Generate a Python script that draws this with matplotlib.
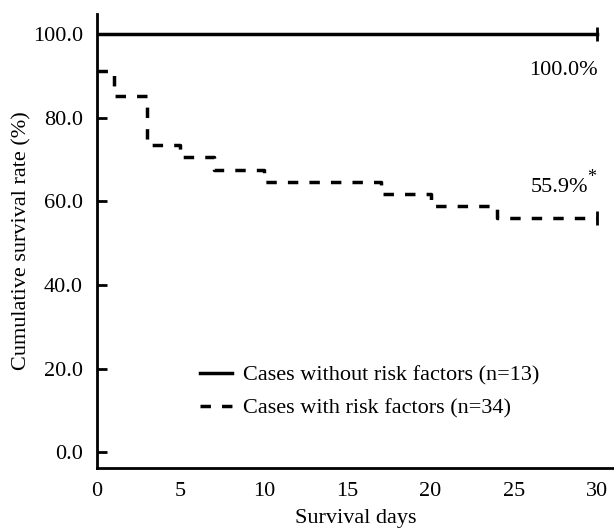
import numpy as np
import matplotlib
matplotlib.use("Agg")
import matplotlib.pyplot as plt

plt.rcParams['font.family'] = ['Liberation Serif', 'DejaVu Serif']

# survival curves (days, cumulative survival %)
days_no_risk = [0, 30]
surv_no_risk = [100.0, 100.0]

days_risk = [0, 1, 3, 5, 7, 10, 17, 20, 24, 30]
surv_risk = [91.2, 85.3, 73.5, 70.6, 67.6, 64.7, 61.8, 58.8, 55.9, 55.9]

labels = ['Cases without risk factors (n=13)', 'Cases with risk factors (n=34)']
yticks = [0, 20, 40, 60, 80, 100]
xticks = [0, 5, 10, 15, 20, 25, 30]

fs = 16

fig = plt.figure(figsize=(6.14, 5.3), dpi=100)
ax = fig.add_axes([97/614, 1 - 468/530, 517/614, 454/530])

ax.step(days_no_risk, surv_no_risk, where='post', color='black', lw=2.5, label=labels[0])
ax.step(days_risk, surv_risk, where='post', color='black', lw=2.5,
        dashes=[3, 3.2], label=labels[1])
# censor marks
ax.plot([days_no_risk[-1]], [surv_no_risk[-1]], marker='|', ms=10, mew=2, color='black')
ax.plot([days_risk[-1]], [surv_risk[-1]], marker='|', ms=10, mew=2, color='black')

ax.text(30, 91.4, '100.0%', ha='right', va='center', fontsize=fs)
ax.text(29.45, 63.4, '55.9%', ha='right', va='center', fontsize=fs)
ax.text(29.4, 65.8, '*', ha='left', va='center', fontsize=13)

ax.set_xlim(0, 31)
ax.set_ylim(-3.8, 104.8)
ax.set_yticks(yticks)
ax.set_yticklabels([f'{v:.1f}' for v in yticks])
ax.set_xticks(xticks)

ax.tick_params(axis='y', direction='in', length=7, width=2, pad=10, labelsize=fs)
ax.tick_params(axis='x', length=0, pad=10, labelsize=fs)

for s in ['top', 'right']:
    ax.spines[s].set_visible(False)
for s in ['left', 'bottom']:
    ax.spines[s].set_linewidth(2)

ax.set_xlabel('Survival days', fontsize=fs, labelpad=6)
ax.set_ylabel('Cumulative survival rate (%)', fontsize=fs, labelpad=1)

ax.legend(loc='center left', bbox_to_anchor=(0.199, 0.168), frameon=False,
          fontsize=fs, handlelength=1.45, handletextpad=0.5, labelspacing=0.55,
          borderaxespad=0, borderpad=0)

fig.savefig('out.png', dpi=100)
